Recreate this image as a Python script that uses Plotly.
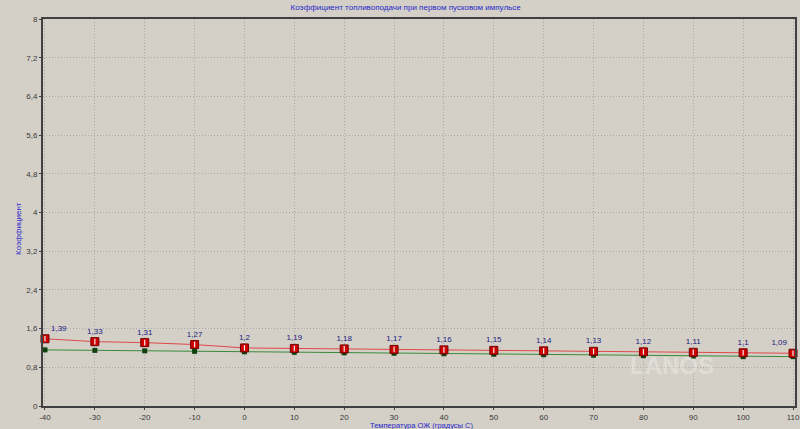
import plotly.graph_objects as go

temps = [-40, -30, -20, -10, 0, 10, 20, 30, 40, 50, 60, 70, 80, 90, 100, 110]
red_vals = [1.39, 1.33, 1.31, 1.27, 1.2, 1.19, 1.18, 1.17, 1.16, 1.15, 1.14, 1.13, 1.12, 1.11, 1.1, 1.09]
green_vals = [1.16, 1.15, 1.14, 1.13, 1.12, 1.11, 1.10, 1.09, 1.08, 1.07, 1.06, 1.05, 1.04, 1.03, 1.02, 1.02]
y_ticks = [0, 0.8, 1.6, 2.4, 3.2, 4, 4.8, 5.6, 6.4, 7.2, 8]
y_tick_labels = ["0", "0,8", "1,6", "2,4", "3,2", "4", "4,8", "5,6", "6,4", "7,2", "8"]
x_ticks = temps

red_labels = [f"{v:g}".replace(".", ",") for v in red_vals]
label_pos = ["top right"] + ["top center"] * (len(temps) - 2) + ["top left"]

BG = "#d4d0c8"
FONT = "Liberation Sans"
BLUE = "#2828c8"

fig = go.Figure()
fig.add_trace(go.Scatter(
    x=temps, y=green_vals, mode="lines+markers",
    line=dict(color="#3a8a3a", width=1),
    marker=dict(symbol="square", size=5, color="#104010", line=dict(width=0)),
    hoverinfo="skip", showlegend=False,
))
fig.add_trace(go.Scatter(
    x=temps, y=red_vals, mode="lines+markers+text",
    line=dict(color="#e04848", width=1),
    marker=dict(symbol="square", size=8, color="#d00000", line=dict(color="#700000", width=1)),
    text=red_labels, textposition=label_pos, cliponaxis=False,
    textfont=dict(family=FONT, size=8, color="#202080"),
    hoverinfo="skip", showlegend=False,
))
fig.add_trace(go.Scatter(
    x=temps, y=red_vals, mode="markers",
    marker=dict(symbol="line-ns", size=4, color="white", line=dict(color="#f0f0f0", width=1.2)),
    hoverinfo="skip", showlegend=False,
))

axis_common = dict(
    showgrid=True, gridcolor="#a8a8a8", griddash="1px,2px", gridwidth=1,
    showline=True, linecolor="#404040", linewidth=2, mirror=True,
    ticks="outside", ticklen=2, tickcolor="#404040",
    zeroline=False, automargin=False,
    tickfont=dict(family=FONT, size=8, color="#383838"),
)

fig.update_layout(
    width=800, height=429,
    margin=dict(l=43, r=5, t=19, b=23, autoexpand=False),
    paper_bgcolor=BG, plot_bgcolor=BG,
    font=dict(family=FONT, size=8, color="#303030"),
    title=dict(text="Коэффициент топливоподачи при первом пусковом импульсе",
               x=0.507, xanchor="center", y=0.99, yanchor="top",
               font=dict(family=FONT, size=8, color=BLUE)),
    xaxis=dict(range=[-40.4, 110.4], tickvals=x_ticks, ticktext=[str(t) for t in x_ticks],
               **axis_common),
    yaxis=dict(range=[0, 8], tickvals=y_ticks, ticktext=y_tick_labels, **axis_common),
)

fig.add_annotation(xref="paper", yref="paper", x=0.503, xanchor="center", y=-0.05, yanchor="middle",
                   text="Температура ОЖ (градусы С)", showarrow=False, borderpad=0,
                   font=dict(family=FONT, size=7.5, color=BLUE))
fig.add_annotation(xref="paper", yref="paper", x=-0.032, xanchor="center", y=0.46, yanchor="middle",
                   text="Коэффициент", textangle=-90, showarrow=False,
                   font=dict(family=FONT, size=8, color=BLUE))

fig.add_annotation(xref="paper", yref="paper", x=0.895, y=0.065, text="<b>LANOS</b>",
                   showarrow=False, font=dict(family=FONT, size=24, color="rgba(255,255,255,0.3)"))

fig.write_html("out.html", config={"displayModeBar": False},
               post_script="document.body.style.margin='0';document.body.style.background='#d4d0c8';")
